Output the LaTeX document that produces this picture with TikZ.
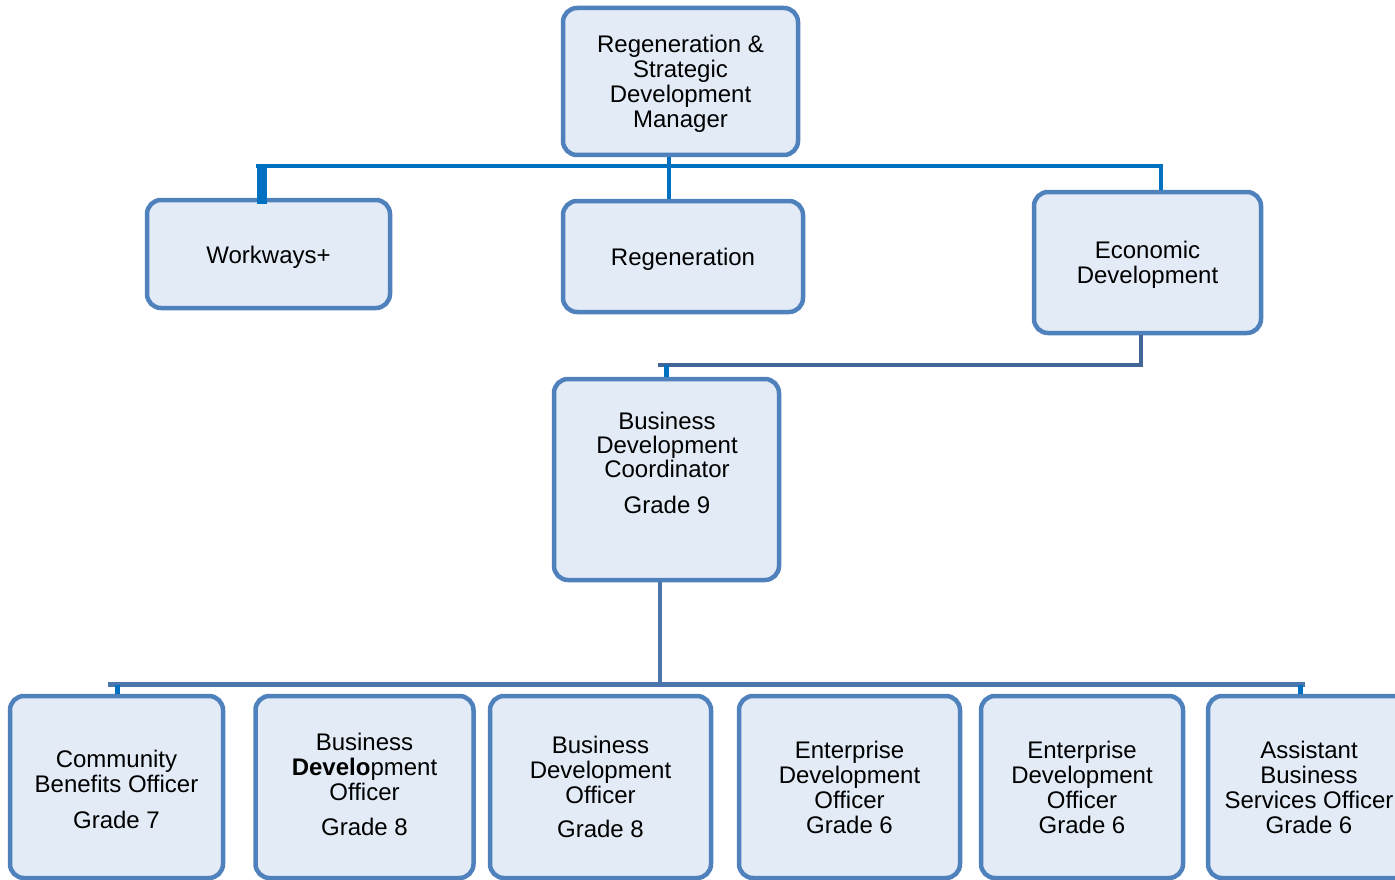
\documentclass[tikz,border=0pt]{standalone}
\usepackage{fontspec}
\setmainfont{Liberation Sans}
\definecolor{boxborder}{RGB}{79,129,189}
\definecolor{boxfill}{RGB}{226,235,246}
\definecolor{topline}{RGB}{0,112,192}
\definecolor{midline}{RGB}{66,102,152}
\definecolor{lowline}{RGB}{74,118,172}
\newcommand{\strutup}[1]{\rule{0pt}{#1}}
\begin{document}
\begin{tikzpicture}[x=1pt,y=-1pt,
  orgbox/.style={draw=boxborder, line width=4.5pt, fill=boxfill, rounded corners=14pt,
    inner sep=0pt, align=center, font=\fontsize{24}{25}\selectfont},
  orgtext/.style={inner sep=0pt, align=center, font=\fontsize{24}{24}\selectfont},
  topconn/.style={draw=topline, line width=4.5pt},
  midconn/.style={draw=midline, line width=4.5pt},
  lowconn/.style={draw=lowline, line width=4.5pt},
  stub/.style={draw=topline, line width=5pt}]
\useasboundingbox (0,0) rectangle (1395,880);

% boxes
\node[orgbox, minimum width=235pt, minimum height=147pt] (top) at (680.5,81.5)
  {\strutup{22.5pt}Regeneration \&\\Strategic\\Development\\Manager};
\node[orgbox, minimum width=243pt, minimum height=108pt, text height=23.5pt] (work) at (268.5,254) {Workways+};
\node[orgbox, minimum width=240pt, minimum height=111pt, text height=23.5pt] (regen) at (683,256.5) {Regeneration};
\node[orgbox, minimum width=227pt, minimum height=141pt] (econ) at (1147.5,262.5)
  {\strutup{22.5pt}Economic\\Development};
\node[orgbox, minimum width=225pt, minimum height=201pt] (bdc) at (666.5,479.5) {};
\node[orgtext] (bdct) at (667,463) {Business\\Development\\Coordinator\\[12pt]Grade 9};

\node[orgbox, minimum width=213pt, minimum height=182pt] (comm) at (116.5,787)
  {\strutup{21.5pt}Community\\Benefits Officer\\[11pt]Grade 7};
\node[orgbox, minimum width=218pt, minimum height=182pt] (bdoa) at (364.5,787)
  {Business\\\textbf{Develo}pment\\Officer\\[10pt]Grade 8\rule[-5pt]{0pt}{1pt}};
\node[orgbox, minimum width=221pt, minimum height=182pt] (bdob) at (600.5,787)
  {Business\\Development\\Officer\\[9pt]Grade 8};
\node[orgbox, minimum width=221pt, minimum height=182pt] (edoa) at (849.5,787)
  {Enterprise\\Development\\Officer\\Grade 6};
\node[orgbox, minimum width=202pt, minimum height=182pt] (edob) at (1082,787)
  {Enterprise\\Development\\Officer\\Grade 6};
\node[orgbox, minimum width=202pt, minimum height=182pt] (abso) at (1309,787)
  {Assistant\\Business\\Services Officer\\Grade 6};

% connectors: top level
\coordinate (tbL) at (256,166);
\coordinate (tbR) at (1163,166);
\coordinate (tbM) at (669,166);
\coordinate (tbW) at (262,166);
\coordinate (tbE) at (1161,166);
\draw[topconn] (tbL) -- (tbR);
\draw[topconn] (top.south -| tbM) -- (regen.north -| tbM);
\draw[draw=topline, line width=10pt] (tbW) -- ([yshift=-6pt]work.north -| tbW);
\draw[topconn] (tbR -| tbE) -- (econ.north -| tbE);

% Economic Development -> Coordinator
\coordinate (edx) at (1141,365);
\coordinate (edl) at (658,365);
\coordinate (eds) at (666,365);
\draw[midconn] (econ.south -| edx) -- (edx) -- (edl);
\draw[stub] (eds) -- (bdc.north -| eds);

% Coordinator -> bottom row
\coordinate (bx) at (660,684.5);
\coordinate (bL) at (108,684.5);
\coordinate (bR) at (1305,684.5);
\coordinate (bsL) at (117,684.5);
\coordinate (bsR) at (1300,684.5);
\draw[lowconn] (bdc.south -| bx) -- (bx);
\draw[lowconn] (bL) -- (bR);
\draw[stub] (bsL) -- (comm.north -| bsL);
\draw[stub] (bsR) -- (abso.north -| bsR);
\end{tikzpicture}
\end{document}
